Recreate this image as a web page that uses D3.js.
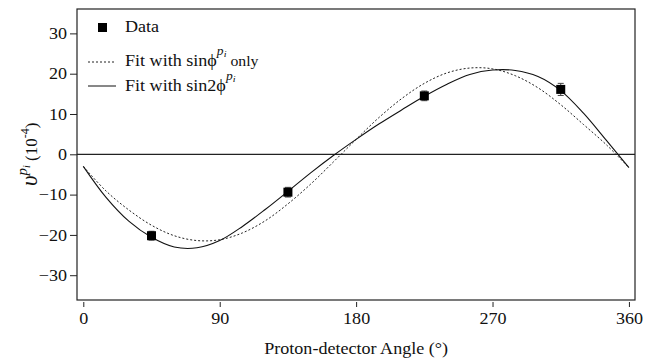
<!DOCTYPE html>
<html>
<head>
<meta charset="utf-8">
<script src="https://cdn.jsdelivr.net/npm/d3@7"></script>
<style>
  body { margin: 0; background: #fff; }
  svg text { font-family: "Liberation Serif", "Times New Roman", serif; fill: #111; }
</style>
</head>
<body>
<svg id="chart" width="655" height="360"></svg>
<script>
// measured data points
const angles = [45, 135, 225, 315];
const asym = [-20.2, -9.4, 14.5, 16.1];
const asymErr = [1.1, 1.2, 1.2, 1.5];

// fit curves, every 15 degrees
const fitAngles = [0, 15, 30, 45, 60, 75, 90, 105, 120, 135, 150, 165, 180,
    195, 210, 225, 240, 255, 270, 285, 300, 315, 330, 345, 360];
const fitSinOnly = [-3.0, -9.1, -13.8, -17.6, -20.2, -21.4, -21.2, -19.5, -16.5, -12.3, -7.4, -1.9, 3.7,
    9.1, 13.8, 17.6, 20.2, 21.4, 21.2, 19.5, 16.5, 12.3, 7.4, 2.4, -3.3];
const fitSin2 = [-3.0, -10.7, -16.6, -20.6, -23.0, -23.2, -21.4, -17.9, -13.7, -9.2, -4.6, -0.3, 3.7,
    7.5, 11.0, 14.4, 17.4, 19.8, 20.9, 20.8, 19.3, 15.8, 10.2, 3.5, -3.3];

const xTicks = [0, 90, 180, 270, 360];
const yTicks = [-30, -20, -10, 0, 10, 20, 30];

const svg = d3.select("#chart");
const plotL = 77, plotR = 635, plotT = 9, plotB = 300;
const sx = 1.13; // the original lettering is a little wide

const x = d3.scaleLinear().domain([-4.16, 364]).range([plotL, plotR]);
const y = d3.scaleLinear().domain([-36.15, 36.05]).range([plotB, plotT]);

// horizontal text placed at (px,py), stretched a bit
function wideText(parent, px, py, size) {
    return parent.append("text")
        .attr("transform", `translate(${px},${py}) scale(${sx},1)`)
        .attr("font-size", size);
}

// plot frame
svg.append("rect")
    .attr("x", plotL).attr("y", plotT)
    .attr("width", plotR - plotL).attr("height", plotB - plotT)
    .attr("fill", "none").attr("stroke", "#222").attr("stroke-width", 1.2);

// x axis, offset a little under the frame
const gx = svg.append("g")
    .attr("transform", `translate(0,${plotB + 2})`)
    .call(d3.axisBottom(x).tickValues(xTicks).tickSize(5).tickPadding(6));
gx.select(".domain").remove();
gx.selectAll("line").attr("stroke", "#222");
gx.selectAll("text").attr("font-size", 16).attr("font-family", "Liberation Serif")
    .attr("fill", "#111").attr("transform", `scale(${sx},1)`);

const gy = svg.append("g")
    .attr("transform", `translate(${plotL},0)`)
    .call(d3.axisLeft(y).tickValues(yTicks).tickSize(7).tickPadding(3));
gy.select(".domain").remove();
gy.selectAll("line").attr("stroke", "#222");
gy.selectAll("text").attr("font-size", 16).attr("font-family", "Liberation Serif")
    .attr("fill", "#111").attr("x", -10 / sx).attr("transform", `scale(${sx},1)`);

// zero line
svg.append("line")
    .attr("x1", plotL).attr("x2", plotR)
    .attr("y1", y(0)).attr("y2", y(0))
    .attr("stroke", "#222").attr("stroke-width", 1.2);

// fit curves
const line = d3.line()
    .x(d => x(d[0])).y(d => y(d[1]))
    .curve(d3.curveCatmullRom);

svg.append("path")
    .datum(fitAngles.map((a, i) => [a, fitSinOnly[i]]))
    .attr("d", line)
    .attr("fill", "none").attr("stroke", "#222")
    .attr("stroke-width", 1).attr("stroke-dasharray", "2,2");

svg.append("path")
    .datum(fitAngles.map((a, i) => [a, fitSin2[i]]))
    .attr("d", line)
    .attr("fill", "none").attr("stroke", "#111")
    .attr("stroke-width", 1.1);

// data points with error bars
const pts = angles.map((a, i) => ({ a: a, v: asym[i], e: asymErr[i] }));
const gp = svg.append("g").selectAll("g").data(pts).enter().append("g");
gp.append("line")
    .attr("x1", d => x(d.a)).attr("x2", d => x(d.a))
    .attr("y1", d => y(d.v - d.e)).attr("y2", d => y(d.v + d.e))
    .attr("stroke", "#444");
gp.append("line")
    .attr("x1", d => x(d.a) - 3).attr("x2", d => x(d.a) + 3)
    .attr("y1", d => y(d.v + d.e)).attr("y2", d => y(d.v + d.e))
    .attr("stroke", "#444");
gp.append("line")
    .attr("x1", d => x(d.a) - 3).attr("x2", d => x(d.a) + 3)
    .attr("y1", d => y(d.v - d.e)).attr("y2", d => y(d.v - d.e))
    .attr("stroke", "#444");
gp.append("rect")
    .attr("x", d => x(d.a) - 4.5).attr("y", d => y(d.v) - 4.5)
    .attr("width", 9).attr("height", 9)
    .attr("fill", "#000");

// legend
const lg = svg.append("g");
lg.append("rect").attr("x", 98).attr("y", 23).attr("width", 9).attr("height", 9).attr("fill", "#000");
wideText(lg, 125, 32, 16).text("Data");

lg.append("line").attr("x1", 88).attr("x2", 116).attr("y1", 62).attr("y2", 62)
    .attr("stroke", "#222").attr("stroke-dasharray", "2,2");
const t2 = wideText(lg, 125, 66, 16);
t2.append("tspan").text("Fit with sinϕ");
t2.append("tspan").attr("dy", -11).attr("font-size", 12).attr("font-style", "italic").text("p");
t2.append("tspan").attr("dy", 2).attr("font-size", 9).attr("font-style", "italic").text("i");
t2.append("tspan").attr("dy", 9).attr("font-size", 14).text(" only");

lg.append("line").attr("x1", 88).attr("x2", 116).attr("y1", 86).attr("y2", 86)
    .attr("stroke", "#111");
const t3 = wideText(lg, 125, 91, 16);
t3.append("tspan").text("Fit with sin2ϕ");
t3.append("tspan").attr("dy", -11).attr("font-size", 12).attr("font-style", "italic").text("p");
t3.append("tspan").attr("dy", 2).attr("font-size", 9).attr("font-style", "italic").text("i");

// axis titles
wideText(svg, (x(0) + x(360)) / 2, 354, 16)
    .attr("text-anchor", "middle")
    .text("Proton-detector Angle (°)");

const yl = svg.append("text")
    .attr("transform", `translate(37,${y(0)}) rotate(-90)`)
    .attr("text-anchor", "middle").attr("font-size", 16);
yl.append("tspan").attr("font-size", 23).attr("font-style", "italic").text("υ");
yl.append("tspan").attr("dy", -10).attr("font-size", 15).attr("font-style", "italic").text("p");
yl.append("tspan").attr("dy", 3).attr("font-size", 10).attr("font-style", "italic").text("i");
yl.append("tspan").attr("dy", 7).attr("font-size", 17).text(" (10");
yl.append("tspan").attr("dy", -8).attr("font-size", 12).text("-4");
yl.append("tspan").attr("dy", 8).attr("font-size", 17).text(")");
</script>
</body>
</html>
